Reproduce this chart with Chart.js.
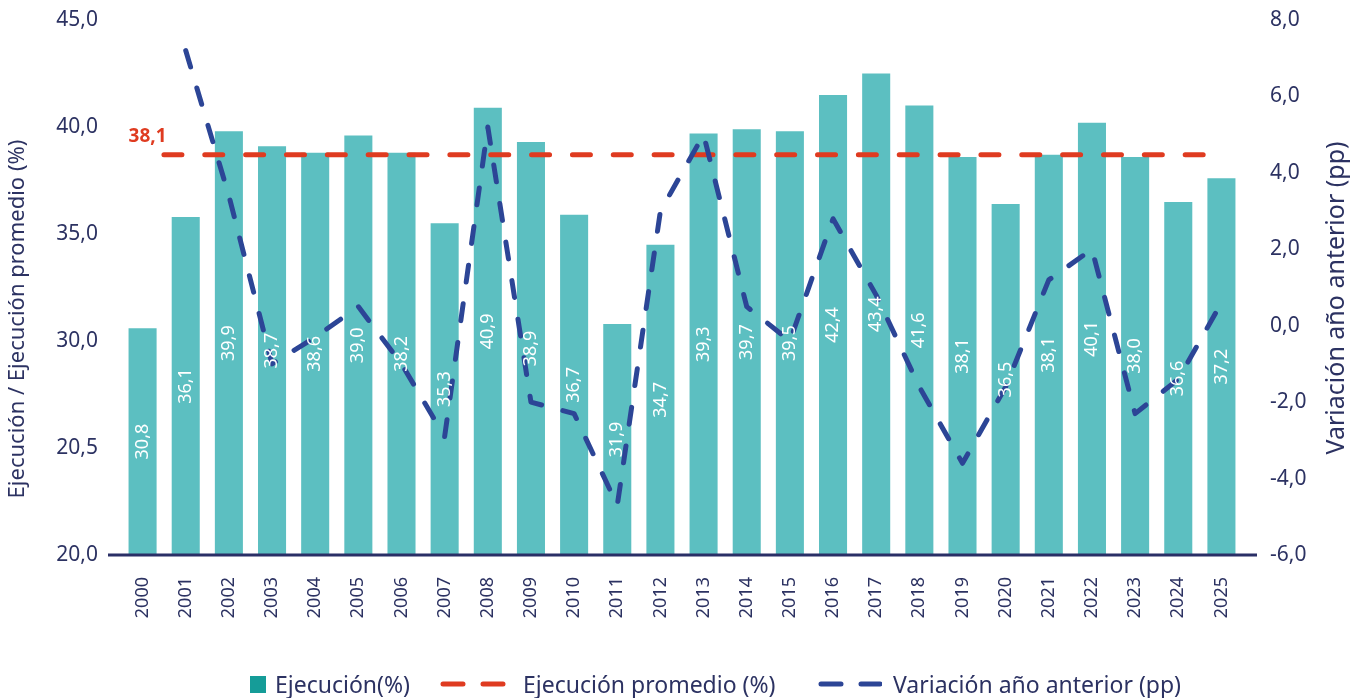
<!DOCTYPE html>
<html>
<head>
<meta charset="utf-8">
<script src="https://cdn.jsdelivr.net/npm/chart.js@4.4.1/dist/chart.umd.min.js"></script>
<style>
  body { margin: 0; background: #fff; }
  #wrap { position: relative; width: 1364px; height: 698px; }
  #leyenda { position: absolute; left: 0; top: 668px; width: 1364px; height: 32px;
    font-family: "Noto Sans", sans-serif; font-size: 23px; color: #2C3262; }
  #leyenda .item { position: absolute; top: 0; white-space: nowrap; display: flex; align-items: center; height: 32px; }
  #leyenda .caja { display: inline-block; width: 16px; height: 17px; background: #159C98; margin-right: 9px; }
  #leyenda svg { margin-right: 15px; }
</style>
</head>
<body>
<div id="wrap">
  <canvas id="mycanvas" width="1364" height="698"></canvas>
  <div id="leyenda">
    <span class="item" style="left:250px"><span class="caja"></span>Ejecución(%)</span>
    <span class="item" style="left:440px"><svg width="68" height="10"><line x1="3" y1="5" x2="66" y2="5" stroke="#DF3B20" stroke-width="5" stroke-dasharray="20 20" stroke-linecap="round"/></svg>Ejecución promedio (%)</span>
    <span class="item" style="left:818px"><svg width="64" height="10" style="margin-right:11px"><line x1="3" y1="5" x2="62" y2="5" stroke="#2C4596" stroke-width="5" stroke-dasharray="20 20" stroke-linecap="round"/></svg>Variación año anterior (pp)</span>
  </div>
</div>
<script>
// datos
var years = ['2000','2001','2002','2003','2004','2005','2006','2007','2008','2009','2010','2011','2012',
             '2013','2014','2015','2016','2017','2018','2019','2020','2021','2022','2023','2024','2025'];
var ejecucion = [30.6, 35.8, 39.8, 39.1, 38.8, 39.6, 38.8, 35.5, 40.9, 39.3, 35.9, 30.8, 34.5,
                 39.7, 39.9, 39.8, 41.5, 42.5, 41.0, 38.6, 36.4, 38.7, 40.2, 38.6, 36.5, 37.6];
var etiquetasEjecucion = ['30,8','36,1','39,9','38,7','38,6','39,0','38,2','35,3','40,9','38,9','36,7','31,9','34,7',
                          '39,3','39,7','39,5','42,4','43,4','41,6','38,1','36,5','38,1','40,1','38,0','36,6','37,2'];
var promedio = 38.7;
var etiquetaPromedio = '38,1';
var variacion = [null, 7.2, 3.4, -1.0, -0.3, 0.5, -1.0, -2.9, 5.2, -2.0, -2.3, -4.7, 3.0,
                 5.0, 0.5, -0.4, 2.8, 0.8, -1.6, -3.6, -1.6, 1.2, 2.0, -2.3, -1.4, 0.6];
var ticksIzq = ['20,0', '20,5', '30,0', '35,0', '40,0', '45,0'];

var azulTexto = '#2C3262';
var teal = '#5CBFC1';
var rojo = '#DF3B20';
var azul = '#2C4596';
var fuente = '"Noto Sans", sans-serif';

var promedioData = years.map(function() { return promedio; });

// etiquetas blancas, linea base, titulos y valor del promedio
var extras = {
  id: 'extras',
  afterDatasetsDraw: function(chart) {
    var c = chart.ctx;
    var area = chart.chartArea;
    var barras = chart.getDatasetMeta(0);
    var base = chart.scales.y.getPixelForValue(chart.scales.y.min);

    c.save();
    c.fillStyle = '#fff';
    c.font = '18px ' + fuente;
    c.textAlign = 'center';
    c.textBaseline = 'middle';
    barras.data.forEach(function(bar, i) {
      c.save();
      c.translate(bar.x, (bar.y + base) / 2);
      c.rotate(-Math.PI / 2);
      c.fillText(etiquetasEjecucion[i], 0, 0);
      c.restore();
    });
    c.restore();

    // eje inferior
    c.save();
    c.strokeStyle = '#2A2F66';
    c.lineWidth = 3;
    c.beginPath();
    c.moveTo(area.left - 13, area.bottom);
    c.lineTo(area.right + 14, area.bottom);
    c.stroke();
    c.restore();

    // etiqueta del promedio
    var p = chart.getDatasetMeta(1).data[0];
    c.save();
    c.fillStyle = rojo;
    c.font = 'bold 19px ' + fuente;
    c.textAlign = 'left';
    c.textBaseline = 'alphabetic';
    c.fillText(etiquetaPromedio, p.x - 14, p.y - 13);
    c.restore();

    // titulos de ejes
    c.save();
    c.fillStyle = azulTexto;
    c.font = '22px ' + fuente;
    c.textAlign = 'center';
    c.textBaseline = 'middle';
    c.translate(18, 319);
    c.rotate(-Math.PI / 2);
    c.fillText('Ejecución / Ejecución promedio (%)', 0, 0);
    c.restore();
    c.save();
    c.fillStyle = azulTexto;
    c.font = '25px ' + fuente;
    c.textAlign = 'center';
    c.textBaseline = 'middle';
    c.translate(1337, 298);
    c.rotate(-Math.PI / 2);
    c.fillText('Variación año anterior (pp)', 0, 0);
    c.restore();
  }
};

var ctx = document.getElementById('mycanvas').getContext('2d');
var chart = new Chart(ctx, {
  type: 'bar',
  data: {
    labels: years,
    datasets: [
      {
        label: 'Ejecución(%)',
        data: ejecucion,
        backgroundColor: teal,
        categoryPercentage: 1,
        barPercentage: 0.65,
        yAxisID: 'y',
        order: 3
      },
      {
        type: 'line',
        label: 'Ejecución promedio (%)',
        data: promedioData,
        borderColor: rojo,
        borderWidth: 5,
        borderDash: [18, 22.85],
        borderDashOffset: 19.5,
        borderCapStyle: 'round',
        pointRadius: 0,
        fill: false,
        yAxisID: 'y',
        order: 2
      },
      {
        type: 'line',
        label: 'Variación año anterior (pp)',
        data: variacion,
        borderColor: azul,
        borderWidth: 5,
        borderDash: [17, 22],
        borderCapStyle: 'round',
        borderJoinStyle: 'round',
        pointRadius: 0,
        tension: 0,
        fill: false,
        yAxisID: 'y1',
        order: 1
      }
    ]
  },
  options: {
    responsive: false,
    animation: false,
    layout: { padding: { top: 20, bottom: -2, left: 0, right: 0 } },
    plugins: {
      legend: { display: false },
      tooltip: { enabled: false }
    },
    scales: {
      x: {
        grid: { display: false, drawTicks: false },
        border: { display: false },
        ticks: { color: azulTexto, font: { family: fuente, size: 18 }, minRotation: 90, maxRotation: 90, padding: 22 },
        afterFit: function(s) { s.height = 145; }
      },
      y: {
        position: 'left',
        min: 20, max: 45,
        grid: { display: false, drawTicks: false },
        border: { display: false },
        ticks: {
          stepSize: 5, padding: 23, color: azulTexto, font: { family: fuente, size: 21 },
          callback: function(v, i) { return ticksIzq[i]; }
        },
        afterFit: function(s) { s.width = 121; s.paddingTop = 0; s.paddingBottom = 0; }
      },
      y1: {
        position: 'right',
        min: -6, max: 8,
        grid: { display: false, drawTicks: false },
        border: { display: false },
        ticks: {
          stepSize: 2, padding: 27, color: azulTexto, font: { family: fuente, size: 21 },
          callback: function(v) { return v.toFixed(1).replace('.', ','); }
        },
        afterFit: function(s) { s.width = 121; s.paddingTop = 0; s.paddingBottom = 0; }
      }
    }
  },
  plugins: [extras]
});
</script>
</body>
</html>
